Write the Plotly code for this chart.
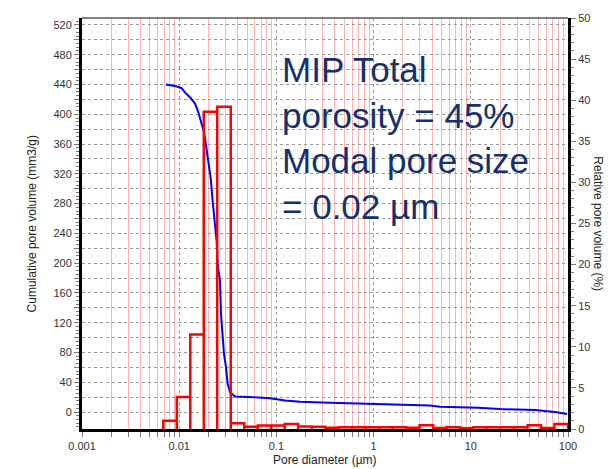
import plotly.graph_objects as go

# ---- data ----
# cumulative pore volume (left axis, mm3/g) vs pore diameter (µm)
diam_cum = [0.0073, 0.0091, 0.0106, 0.0115, 0.0129, 0.0146, 0.0157, 0.0171, 0.0180,
            0.0189, 0.0199, 0.0211, 0.0221, 0.0234, 0.0243, 0.0249, 0.0263, 0.0269,
            0.0280, 0.0289, 0.0303, 0.0315, 0.0333, 0.0375, 0.059, 0.086, 0.1225,
            0.175, 0.356, 0.964, 2.37, 3.80, 4.82, 11.9, 19.95, 45.7, 73.5, 98.0]
cum_vol = [440, 438, 435, 429, 423, 414, 403, 387, 376, 358, 336, 314, 283, 252,
           229, 198, 176, 132, 100, 78, 60, 38, 27, 21, 20, 18.7, 15.6, 13.8, 12.4,
           11, 9.7, 8.7, 7.1, 6, 4, 2.7, 0, -2.5]

# relative pore volume histogram (right axis, %)
bin_edges = [0.00685, 0.00944, 0.0130, 0.0179, 0.0246, 0.0339, 0.0467, 0.0643,
             0.0884, 0.1217, 0.1675, 0.2306, 0.3175, 0.4370, 0.6016, 0.828, 1.140,
             1.570, 2.160, 2.973, 4.093, 5.635, 7.758, 10.67, 14.70, 20.23, 27.85,
             38.34, 52.7, 72.6, 100.0]
rel_vol = [1.0, 3.9, 11.5, 38.6, 39.2, 0.7, 0.28, 0.44, 0.44, 0.6, 0.3, 0.28, 0.15,
           0.2, 0.2, 0.2, 0.2, 0.2, 0.15, 0.45, 0.12, 0.2, 0.1, 0.2, 0.2, 0.2, 0.2,
           0.45, 0.12, 0.6]

x_major = [0.001, 0.01, 0.1, 1, 10, 100]
x_major_text = ["0.001", "0.01", "0.1", "1", "10", "100"]
left_ticks = list(range(0, 540, 20))
right_ticks = list(range(0, 55, 5))

# ---- build histogram outline from bins ----
hx, hy = [], []
for i, h in enumerate(rel_vol):
    l, r = bin_edges[i], bin_edges[i + 1]
    hx += [l, l, r, r]
    hy += [0, h, h, 0]

x_minor = [k * 10 ** d for d in range(-3, 2) for k in range(2, 10)]

fig = go.Figure()
fig.add_trace(go.Scatter(x=diam_cum, y=cum_vol, mode="lines",
                         line=dict(color="#0000FF", width=2), yaxis="y",
                         hoverinfo="skip"))
fig.add_trace(go.Scatter(x=hx, y=hy, mode="lines",
                         line=dict(color="#FF0000", width=2.5), yaxis="y2",
                         hoverinfo="skip"))

tick_font = dict(family="Liberation Sans, Arial, sans-serif", size=11, color="#333333")
title_font = dict(family="Liberation Sans, Arial, sans-serif", size=12, color="#222222")

fig.update_layout(
    width=612, height=469,
    margin=dict(l=82, r=44, t=15, b=40),
    paper_bgcolor="white", plot_bgcolor="white",
    showlegend=False,
    xaxis=dict(
        type="log", range=[-3, 2],
        tickmode="array", tickvals=x_major, ticktext=x_major_text,
        ticks="outside", ticklen=5, tickwidth=1, tickcolor="#777777",
        tickfont=tick_font,
        showgrid=True, gridcolor="#9a9a9a", griddash="dot", gridwidth=1,
        showline=True, linecolor="black", linewidth=3,
        zeroline=False,
        minor=dict(tickmode="array", tickvals=x_minor, ticks="outside", ticklen=5,
                   tickcolor="#777777", showgrid=True, gridcolor="#FFB4B4",
                   gridwidth=1, griddash="solid"),
    ),
    yaxis=dict(
        range=[-22.7, 529.3],
        tickmode="array", tickvals=left_ticks,
        ticktext=[str(v) if v % 40 == 0 else "" for v in left_ticks],
        ticks="outside", ticklen=5, tickwidth=1, tickcolor="#777777",
        tickfont=tick_font,
        showgrid=True, gridcolor="#9a9a9a", griddash="dot", gridwidth=1,
        showline=True, linecolor="black", linewidth=3,
        zeroline=False,
        minor=dict(dtick=5, tick0=0, ticks="outside", ticklen=3, tickcolor="#777777",
                   showgrid=False),
    ),
    yaxis2=dict(
        range=[0, 50], overlaying="y", side="right",
        tickmode="array", tickvals=right_ticks,
        ticks="outside", ticklen=5, tickwidth=1, tickcolor="#777777",
        tickfont=tick_font,
        showgrid=False, zeroline=False,
        showline=True, linecolor="black", linewidth=3,
        minor=dict(dtick=1, tick0=0, ticks="outside", ticklen=3, tickcolor="#777777",
                   showgrid=False),
    ),
    shapes=[dict(type="line", xref="paper", yref="paper", x0=0, x1=1, y0=1, y1=1,
                 line=dict(color="#808080", width=2))],
    annotations=[
        dict(text="MIP Total<br>porosity = 45%<br>Modal pore size<br>= 0.02 µm",
             xref="paper", yref="paper", x=0.408, y=0.707, xanchor="left",
             yanchor="middle", align="left", showarrow=False,
             font=dict(family="Liberation Sans, Arial, sans-serif", size=35,
                       color="#14306E")),
        dict(text="Cumulative pore volume (mm3/g)", xref="paper", yref="paper",
             x=-0.103, y=0.5, textangle=-90, showarrow=False,
             xanchor="center", yanchor="middle", font=title_font),
        dict(text="Relative pore volume (%)", xref="paper", yref="paper",
             x=1.062, y=0.5, textangle=90, showarrow=False,
             xanchor="center", yanchor="middle", font=title_font),
        dict(text="Pore diameter (µm)", xref="paper", yref="paper",
             x=0.5, y=-0.075, showarrow=False,
             xanchor="center", yanchor="middle", font=title_font),
    ],
)

fig.write_html("out.html")
